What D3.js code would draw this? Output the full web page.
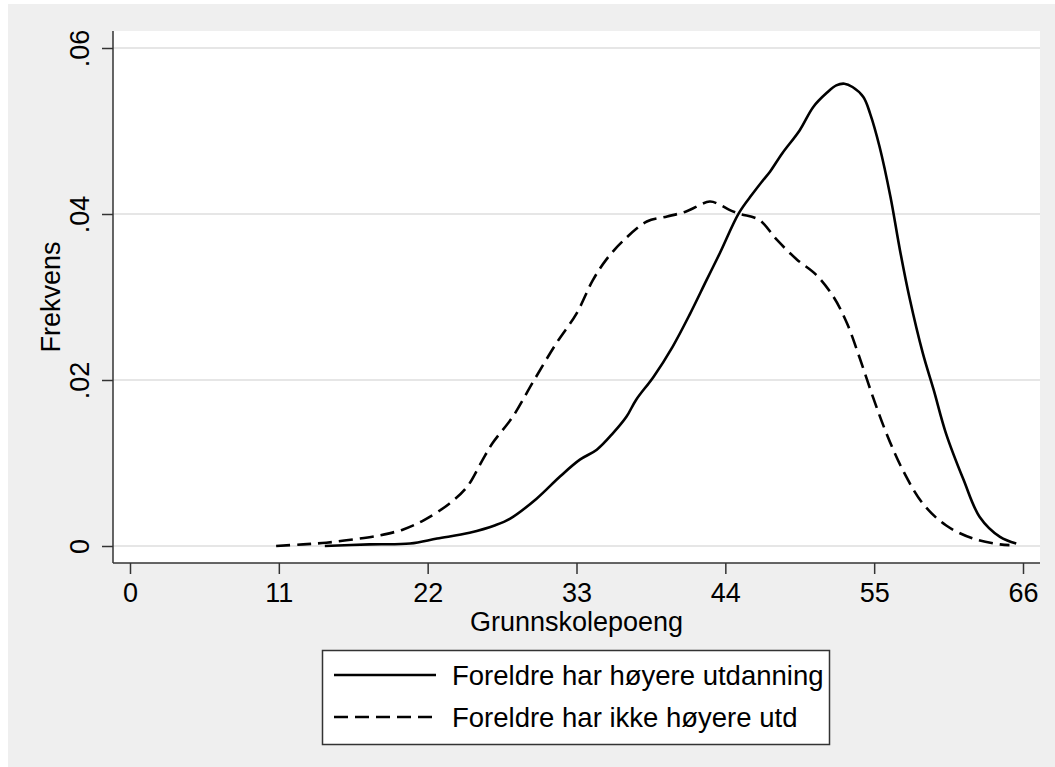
<!DOCTYPE html>
<html>
<head>
<meta charset="utf-8">
<script src="https://cdn.jsdelivr.net/npm/d3@7"></script>
<style>
html,body{margin:0;padding:0;background:#fff;}
svg{display:block;font-family:"Liberation Sans",Arial,Helvetica,sans-serif;}
</style>
</head>
<body>
<svg id="chart" width="1055" height="767"></svg>
<script>
// ---- data ----
const seriesNames = ["Foreldre har høyere utdanning", "Foreldre har ikke høyere utd"];
const xTicks = [0, 11, 22, 33, 44, 55, 66];
const yTicks = [0, 0.02, 0.04, 0.06];
const yTickLabels = ["0", ".02", ".04", ".06"];
const xTitle = "Grunnskolepoeng";
const yTitle = "Frekvens";

const highX = [14.4, 17.7, 20.7, 22.7, 25.1, 27.0, 28.1, 30.05, 31.8, 33.25, 34.5, 35.7, 36.7, 37.4, 38.7, 40.1, 41.4, 42.6, 43.6, 45.0, 46.0, 46.8, 47.3, 48.2, 49.5, 50.5, 51.5, 52.2, 52.8, 53.4, 54.2, 54.7, 55.4, 56.2, 56.9, 57.6, 58.6, 59.4, 60.3, 61.6, 62.8, 64.3, 65.5];
const highY = [0.0000, 0.0002, 0.0003, 0.0009, 0.0016, 0.0025, 0.0033, 0.0057, 0.0084, 0.0104, 0.0116, 0.0136, 0.0156, 0.0176, 0.0204, 0.0240, 0.0280, 0.0320, 0.0353, 0.0401, 0.0424, 0.0441, 0.0451, 0.0473, 0.0501, 0.0529, 0.0546, 0.0555, 0.0557, 0.0553, 0.0541, 0.0521, 0.0481, 0.0421, 0.0357, 0.0300, 0.0232, 0.0188, 0.0136, 0.0080, 0.0035, 0.0011, 0.0003];

const lowX = [10.8, 12.8, 14.5, 16.5, 18.5, 20.2, 21.7, 23.6, 24.9, 26.0, 26.8, 28.3, 29.8, 31.5, 33.0, 34.2, 35.2, 36.4, 38.2, 39.7, 41.1, 42.85, 43.6, 44.3, 45.1, 46.5, 47.8, 49.3, 50.7, 52.0, 53.0, 53.9, 54.9, 55.9, 57.1, 58.6, 60.3, 62.3, 64.3, 65.0];
const lowY = [0.0000, 0.0002, 0.0004, 0.0008, 0.0013, 0.0020, 0.0031, 0.0051, 0.0071, 0.0102, 0.0124, 0.0156, 0.0198, 0.0244, 0.0280, 0.0320, 0.0345, 0.0367, 0.0391, 0.0397, 0.0403, 0.0415, 0.0411, 0.0405, 0.0400, 0.0393, 0.0369, 0.0345, 0.0327, 0.0300, 0.0268, 0.0228, 0.0180, 0.0136, 0.0092, 0.0051, 0.0025, 0.0009, 0.0002, 0.0001];

// ---- layout ----
const svg = d3.select("#chart");
const plot = {left: 113, right: 1040, top: 31, bottom: 563};
const x = d3.scaleLinear().domain([0, 66]).range([130, 1023]);
const y = d3.scaleLinear().domain([0, 0.06]).range([546, 48]);
const axisColor = "#333";
const font = "Liberation Sans, Arial, sans-serif";

// outer background
svg.append("rect").attr("x", 8).attr("y", 4).attr("width", 1047).attr("height", 763).attr("fill", "#efefef");
// plot region
svg.append("rect").attr("x", plot.left).attr("y", plot.top)
  .attr("width", plot.right - plot.left).attr("height", plot.bottom - plot.top).attr("fill", "#fff");

// gridlines
svg.append("g").selectAll("line").data(yTicks).join("line")
  .attr("x1", plot.left).attr("x2", plot.right)
  .attr("y1", d => y(d)).attr("y2", d => y(d))
  .attr("stroke", "#e6e6e6").attr("stroke-width", 2);

// y axis
const yAxis = svg.append("g").attr("transform", `translate(${plot.left},0)`)
  .call(d3.axisLeft(y).tickValues(yTicks).tickSize(11).tickPadding(0)
    .tickFormat((d, i) => yTickLabels[i]));
yAxis.select(".domain").remove();
yAxis.selectAll(".tick line").attr("stroke", axisColor).attr("stroke-width", 1.5);
yAxis.selectAll(".tick text")
  .attr("x", null)
  .attr("text-anchor", "middle")
  .attr("transform", "translate(-33,0) rotate(-90)")
  .attr("dy", "0.35em")
  .attr("font-size", 27).attr("fill", "#000")
  .style("font-family", font);
svg.append("line").attr("x1", plot.left).attr("x2", plot.left)
  .attr("y1", plot.top).attr("y2", plot.bottom).attr("stroke", axisColor).attr("stroke-width", 1.5);

// x axis
const xAxis = svg.append("g").attr("transform", `translate(0,${plot.bottom})`)
  .call(d3.axisBottom(x).tickValues(xTicks).tickSize(11).tickPadding(0).tickFormat(d3.format("d")));
xAxis.select(".domain").remove();
xAxis.selectAll(".tick line").attr("stroke", axisColor).attr("stroke-width", 1.5);
xAxis.selectAll(".tick text")
  .attr("y", 30).attr("dy", "0.35em")
  .attr("font-size", 27).attr("fill", "#000")
  .style("font-family", font);
svg.append("line").attr("x1", plot.left).attr("x2", plot.right)
  .attr("y1", plot.bottom).attr("y2", plot.bottom).attr("stroke", axisColor).attr("stroke-width", 1.5);

// axis titles
svg.append("text").attr("x", (plot.left + plot.right) / 2).attr("y", 622).attr("dy", "0.35em")
  .attr("text-anchor", "middle").attr("font-size", 27).text(xTitle);
svg.append("text").attr("transform", `translate(51,${(plot.top + plot.bottom) / 2}) rotate(-90)`)
  .attr("dy", "0.35em").attr("text-anchor", "middle").attr("font-size", 27).text(yTitle);

// curves
const line = d3.line().x(d => x(d[0])).y(d => y(d[1])).curve(d3.curveCatmullRom.alpha(0.5));
const highData = highX.map((v, i) => [v, highY[i]]);
const lowData = lowX.map((v, i) => [v, lowY[i]]);
svg.append("path").datum(highData).attr("d", line)
  .attr("fill", "none").attr("stroke", "#000").attr("stroke-width", 2.6).attr("stroke-linejoin", "round");
svg.append("path").datum(lowData).attr("d", line)
  .attr("fill", "none").attr("stroke", "#000").attr("stroke-width", 2.6)
  .attr("stroke-dasharray", "14,7");

// legend
const lg = svg.append("g");
lg.append("rect").attr("x", 322.5).attr("y", 650.5).attr("width", 507).attr("height", 94)
  .attr("fill", "#fff").attr("stroke", axisColor).attr("stroke-width", 1.5);
const styles = [null, "14,7"];
seriesNames.forEach((name, i) => {
  const cy = 675 + i * 42;
  lg.append("line").attr("x1", 334).attr("x2", 436).attr("y1", cy).attr("y2", cy)
    .attr("stroke", "#000").attr("stroke-width", 2.6).attr("stroke-dasharray", styles[i]);
  lg.append("text").attr("x", 452).attr("y", cy).attr("dy", "0.35em")
    .attr("font-size", 27.5).text(name);
});
</script>
</body>
</html>
